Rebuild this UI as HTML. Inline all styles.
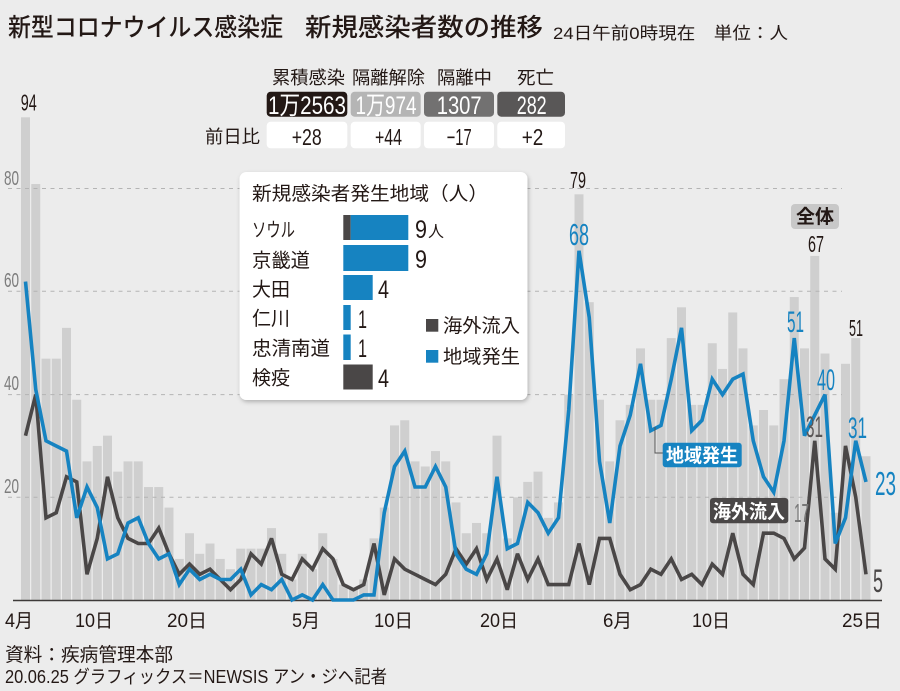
<!DOCTYPE html>
<html><head><meta charset="utf-8">
<style>
html,body{margin:0;padding:0;background:#ececec;}
svg{display:block;}
.j{font-family:"Liberation Sans","Noto Sans CJK JP",sans-serif;}
.n{font-family:"Liberation Sans Narrow","Liberation Sans","Noto Sans CJK JP",sans-serif;}
</style></head>
<body>
<svg width="900" height="691" viewBox="0 0 900 691" xmlns="http://www.w3.org/2000/svg">
<defs>
<filter id="sh" x="-10%" y="-10%" width="120%" height="120%">
<feDropShadow dx="1" dy="2" stdDeviation="2" flood-color="#000" flood-opacity="0.25"/>
</filter>
</defs>
<rect x="0" y="0" width="900" height="691" fill="#ececec"/>

<text class="j" x="8" y="36" font-size="25" font-weight="500" fill="#231815" textLength="275" lengthAdjust="spacingAndGlyphs">新型コロナウイルス感染症</text>
<text class="j" x="305" y="36" font-size="25" font-weight="500" fill="#231815" textLength="238" lengthAdjust="spacingAndGlyphs">新規感染者数の推移</text>
<text class="j" x="553" y="39" font-size="17" fill="#231815" textLength="235" lengthAdjust="spacingAndGlyphs">24日午前0時現在　単位：人</text>

<g class="j" font-size="18" fill="#231815">
<text x="272" y="84" textLength="73" lengthAdjust="spacingAndGlyphs">累積感染</text>
<text x="352" y="84" textLength="73" lengthAdjust="spacingAndGlyphs">隔離解除</text>
<text x="437" y="84" textLength="55" lengthAdjust="spacingAndGlyphs">隔離中</text>
<text x="517" y="84" textLength="37" lengthAdjust="spacingAndGlyphs">死亡</text>
<text x="205" y="143" textLength="55" lengthAdjust="spacingAndGlyphs">前日比</text>
</g>
<rect x="266.7" y="91.7" width="80.6" height="25" rx="4" fill="#231815"/>
<rect x="350.7" y="91.7" width="70" height="25" rx="4" fill="#b5b5b5"/>
<rect x="424" y="91.7" width="70" height="25" rx="4" fill="#727171"/>
<rect x="497.3" y="91.7" width="67.7" height="25" rx="4" fill="#595757"/>
<rect x="266.7" y="121.7" width="80.6" height="26.6" rx="4" fill="#fff"/>
<rect x="350.7" y="121.7" width="70" height="26.6" rx="4" fill="#fff"/>
<rect x="424" y="121.7" width="70" height="26.6" rx="4" fill="#fff"/>
<rect x="497.3" y="121.7" width="67.7" height="26.6" rx="4" fill="#fff"/>
<g class="n" font-size="25" fill="#fff">
<text x="268" y="114" textLength="78" lengthAdjust="spacingAndGlyphs">1万2563</text>
<text x="355.5" y="114" textLength="61" lengthAdjust="spacingAndGlyphs">1万974</text>
<text x="436.7" y="114" textLength="45" lengthAdjust="spacingAndGlyphs">1307</text>
<text x="516.7" y="114" textLength="30" lengthAdjust="spacingAndGlyphs">282</text>
</g>
<g class="n" font-size="23" fill="#231815">
<text x="291.7" y="145" textLength="30" lengthAdjust="spacingAndGlyphs">+28</text>
<text x="375" y="145" textLength="27" lengthAdjust="spacingAndGlyphs">+44</text>
<text x="446.7" y="145" textLength="25" lengthAdjust="spacingAndGlyphs">−17</text>
<text x="521.7" y="145" textLength="21.6" lengthAdjust="spacingAndGlyphs">+2</text>
</g>

<g fill="#cfcfcf">
<rect x="21" y="117.31" width="9" height="482.69"/>
<rect x="31.25" y="184.06" width="9" height="415.94"/>
<rect x="41.5" y="358.65" width="9" height="241.35"/>
<rect x="51.75" y="358.65" width="9" height="241.35"/>
<rect x="62" y="327.84" width="9" height="272.16"/>
<rect x="72.25" y="399.73" width="9" height="200.27"/>
<rect x="82.5" y="461.35" width="9" height="138.65"/>
<rect x="92.75" y="445.95" width="9" height="154.05"/>
<rect x="103" y="435.68" width="9" height="164.32"/>
<rect x="113.25" y="471.62" width="9" height="128.38"/>
<rect x="123.5" y="461.35" width="9" height="138.65"/>
<rect x="133.75" y="461.35" width="9" height="138.65"/>
<rect x="144" y="487.03" width="9" height="112.97"/>
<rect x="154.25" y="487.03" width="9" height="112.97"/>
<rect x="164.5" y="507.57" width="9" height="92.43"/>
<rect x="174.75" y="558.92" width="9" height="41.08"/>
<rect x="185" y="533.24" width="9" height="66.76"/>
<rect x="195.25" y="553.78" width="9" height="46.22"/>
<rect x="205.5" y="543.51" width="9" height="56.49"/>
<rect x="215.75" y="558.92" width="9" height="41.08"/>
<rect x="226" y="569.19" width="9" height="30.81"/>
<rect x="236.25" y="548.65" width="9" height="51.35"/>
<rect x="246.5" y="548.65" width="9" height="51.35"/>
<rect x="256.75" y="548.65" width="9" height="51.35"/>
<rect x="267" y="528.11" width="9" height="71.89"/>
<rect x="277.25" y="553.78" width="9" height="46.22"/>
<rect x="287.5" y="579.46" width="9" height="20.54"/>
<rect x="297.75" y="553.78" width="9" height="46.22"/>
<rect x="308" y="569.19" width="9" height="30.81"/>
<rect x="318.25" y="533.24" width="9" height="66.76"/>
<rect x="328.5" y="558.92" width="9" height="41.08"/>
<rect x="338.75" y="584.59" width="9" height="15.41"/>
<rect x="349" y="589.73" width="9" height="10.27"/>
<rect x="359.25" y="579.46" width="9" height="20.54"/>
<rect x="369.5" y="538.38" width="9" height="61.62"/>
<rect x="379.75" y="507.57" width="9" height="92.43"/>
<rect x="390" y="425.41" width="9" height="174.59"/>
<rect x="400.25" y="420.27" width="9" height="179.73"/>
<rect x="410.5" y="461.35" width="9" height="138.65"/>
<rect x="420.75" y="466.49" width="9" height="133.51"/>
<rect x="431" y="451.08" width="9" height="148.92"/>
<rect x="441.25" y="461.35" width="9" height="138.65"/>
<rect x="451.5" y="502.43" width="9" height="97.57"/>
<rect x="461.75" y="533.24" width="9" height="66.76"/>
<rect x="472" y="522.97" width="9" height="77.03"/>
<rect x="482.25" y="533.24" width="9" height="66.76"/>
<rect x="492.5" y="435.68" width="9" height="164.32"/>
<rect x="502.75" y="538.38" width="9" height="61.62"/>
<rect x="513" y="497.3" width="9" height="102.7"/>
<rect x="523.25" y="481.89" width="9" height="118.11"/>
<rect x="533.5" y="471.62" width="9" height="128.38"/>
<rect x="543.75" y="517.84" width="9" height="82.16"/>
<rect x="554" y="502.43" width="9" height="97.57"/>
<rect x="564.25" y="394.6" width="9" height="205.4"/>
<rect x="574.5" y="194.33" width="9" height="405.67"/>
<rect x="584.75" y="302.17" width="9" height="297.83"/>
<rect x="595" y="399.73" width="9" height="200.27"/>
<rect x="605.25" y="461.35" width="9" height="138.65"/>
<rect x="615.5" y="420.27" width="9" height="179.73"/>
<rect x="625.75" y="404.87" width="9" height="195.13"/>
<rect x="636" y="348.38" width="9" height="251.62"/>
<rect x="646.25" y="399.73" width="9" height="200.27"/>
<rect x="656.5" y="399.73" width="9" height="200.27"/>
<rect x="666.75" y="338.11" width="9" height="261.89"/>
<rect x="677" y="307.3" width="9" height="292.7"/>
<rect x="687.25" y="404.87" width="9" height="195.13"/>
<rect x="697.5" y="404.87" width="9" height="195.13"/>
<rect x="707.75" y="343.25" width="9" height="256.75"/>
<rect x="718" y="368.92" width="9" height="231.08"/>
<rect x="728.25" y="312.44" width="9" height="287.56"/>
<rect x="738.5" y="348.38" width="9" height="251.62"/>
<rect x="748.75" y="425.41" width="9" height="174.59"/>
<rect x="759" y="410" width="9" height="190"/>
<rect x="769.25" y="425.41" width="9" height="174.59"/>
<rect x="779.5" y="379.19" width="9" height="220.81"/>
<rect x="789.75" y="297.03" width="9" height="302.97"/>
<rect x="800" y="348.38" width="9" height="251.62"/>
<rect x="810.25" y="255.95" width="9" height="344.05"/>
<rect x="820.5" y="353.52" width="9" height="246.48"/>
<rect x="830.75" y="512.7" width="9" height="87.3"/>
<rect x="841" y="363.79" width="9" height="236.21"/>
<rect x="851.25" y="338.11" width="9" height="261.89"/>
<rect x="861.5" y="456.22" width="9" height="143.78"/>
</g>

<g stroke="#b4b4b4" stroke-width="1" stroke-dasharray="4,4.5">
<line x1="8" y1="188.5" x2="842" y2="188.5"/>
<line x1="8" y1="291.2" x2="842" y2="291.2"/>
<line x1="8" y1="394.6" x2="842" y2="394.6"/>
<line x1="8" y1="497.3" x2="842" y2="497.3"/>
</g>
<g class="n" font-size="20" fill="#7d7d7d">
<text x="4" y="185" textLength="15" lengthAdjust="spacingAndGlyphs">80</text>
<text x="4" y="287" textLength="15" lengthAdjust="spacingAndGlyphs">60</text>
<text x="4" y="390" textLength="15" lengthAdjust="spacingAndGlyphs">40</text>
<text x="4" y="493" textLength="15" lengthAdjust="spacingAndGlyphs">20</text>
</g>

<line x1="13" y1="600.5" x2="882" y2="600.5" stroke="#3e3a39" stroke-width="1.5"/>

<polyline fill="none" stroke="#4a4747" stroke-width="3.6" stroke-linejoin="miter" stroke-miterlimit="3" points="25.5,435.7 35.75,394.6 46,517.8 56.25,512.7 66.5,476.8 76.75,481.9 87,574.3 97.25,538.4 107.5,476.8 117.75,517.8 128,538.4 138.25,543.5 148.5,543.5 158.75,528.1 169,553.8 179.25,574.3 189.5,564.1 199.75,574.3 210,569.2 220.25,579.5 230.5,589.7 240.75,579.5 251,553.8 261.25,564.1 271.5,538.4 281.75,574.3 292,579.5 302.25,558.9 312.5,569.2 322.75,548.7 333,558.9 343.25,584.6 353.5,589.7 363.75,584.6 374,543.5 384.25,594.9 394.5,558.9 404.75,569.2 415,574.3 425.25,579.5 435.5,584.6 445.75,574.3 456,548.7 466.25,564.1 476.5,548.7 486.75,579.5 497,558.9 507.25,589.7 517.5,553.8 527.75,579.5 538,558.9 548.25,584.6 558.5,584.6 568.75,584.6 579,543.5 589.25,584.6 599.5,538.4 609.75,538.4 620,574.3 630.25,589.7 640.5,584.6 650.75,569.2 661,574.3 671.25,558.9 681.5,579.5 691.75,574.3 702,584.6 712.25,564.1 722.5,574.3 732.75,533.2 743,574.3 753.25,584.6 763.5,533.2 773.75,533.2 784,538.4 794.25,558.9 804.5,548 814.75,440.8 825,558.9 835.25,569.2 845.5,445.9 855.75,497.3 866,574.3"/>

<polyline fill="none" stroke="#1683c1" stroke-width="3.6" stroke-linejoin="miter" stroke-miterlimit="3" points="25.5,281.6 35.75,389.5 46,440.8 56.25,446 66.5,451.1 76.75,517.8 87,487 97.25,507.6 107.5,558.9 117.75,553.8 128,523 138.25,517.8 148.5,543.5 158.75,558.9 169,553.8 179.25,584.6 189.5,569.2 199.75,579.5 210,574.3 220.25,579.5 230.5,579.5 240.75,569.2 251,594.9 261.25,584.6 271.5,589.7 281.75,579.5 292,600 302.25,594.9 312.5,600 322.75,584.6 333,600 343.25,600 353.5,600 363.75,594.9 374,594.9 384.25,512.7 394.5,466.5 404.75,451.1 415,487 425.25,487 435.5,466.5 445.75,487 456,553.8 466.25,569.2 476.5,574.3 486.75,553.8 497,476.8 507.25,548.7 517.5,543.5 527.75,502.4 538,512.7 548.25,533.2 558.5,517.8 568.75,410 579,250.8 589.25,317.6 599.5,461.4 609.75,523 620,446 630.25,415.1 640.5,363.8 650.75,430.6 661,425.4 671.25,379.2 681.5,327.8 691.75,430.6 702,420.3 712.25,379.2 722.5,394.6 732.75,379.2 743,374.1 753.25,440.8 763.5,476.8 773.75,492.2 784,440.8 794.25,338.1 804.5,435.7 814.75,415.1 825,394.6 835.25,543.5 845.5,517.8 855.75,440.8 866,481.9"/>

<rect x="239.5" y="172" width="288" height="228" rx="7" fill="#fff" filter="url(#sh)"/>
<text class="j" x="252" y="200" font-size="19" fill="#231815" textLength="236" lengthAdjust="spacingAndGlyphs">新規感染者発生地域（人）</text>
<g class="j" font-size="19.5" fill="#231815">
<text x="252" y="236.5" textLength="43" lengthAdjust="spacingAndGlyphs">ソウル</text>
<text x="252" y="267" textLength="58" lengthAdjust="spacingAndGlyphs">京畿道</text>
<text x="252" y="296" textLength="38" lengthAdjust="spacingAndGlyphs">大田</text>
<text x="252" y="325" textLength="38" lengthAdjust="spacingAndGlyphs">仁川</text>
<text x="252" y="355" textLength="78" lengthAdjust="spacingAndGlyphs">忠清南道</text>
<text x="252" y="384.5" textLength="38" lengthAdjust="spacingAndGlyphs">検疫</text>
</g>
<rect x="343.3" y="215" width="7.4" height="25" fill="#4a4747"/>
<rect x="350.7" y="215" width="57.6" height="25" fill="#1683c1"/>
<rect x="343.3" y="245" width="65" height="26" fill="#1683c1"/>
<rect x="343.3" y="275" width="29.4" height="25" fill="#1683c1"/>
<rect x="343.3" y="305" width="7.4" height="25" fill="#1683c1"/>
<rect x="343.3" y="334.5" width="7.4" height="25.5" fill="#1683c1"/>
<rect x="343.3" y="364.5" width="29.4" height="25" fill="#4a4747"/>
<g class="n" font-size="25" fill="#231815">
<text x="415" y="238" textLength="12" lengthAdjust="spacingAndGlyphs">9</text>
<text x="415" y="268" textLength="12" lengthAdjust="spacingAndGlyphs">9</text>
<text x="378" y="298" textLength="11" lengthAdjust="spacingAndGlyphs">4</text>
<text x="358" y="328" textLength="9" lengthAdjust="spacingAndGlyphs">1</text>
<text x="358" y="357" textLength="9" lengthAdjust="spacingAndGlyphs">1</text>
<text x="378" y="387" textLength="11" lengthAdjust="spacingAndGlyphs">4</text>
</g>
<text class="j" x="428" y="237" font-size="16" fill="#231815">人</text>
<rect x="426" y="319" width="12.3" height="12.7" fill="#4a4747"/>
<rect x="426" y="350" width="12.3" height="12.7" fill="#1683c1"/>
<text class="j" x="443" y="332" font-size="19" fill="#231815" textLength="77" lengthAdjust="spacingAndGlyphs">海外流入</text>
<text class="j" x="443" y="363" font-size="19" fill="#231815" textLength="77" lengthAdjust="spacingAndGlyphs">地域発生</text>

<polyline points="655,427 655,453 663,453" fill="none" stroke="#555" stroke-width="1"/>
<rect x="662.7" y="442.7" width="79" height="24.6" rx="3" fill="#1683c1"/>
<text class="j" x="666" y="462" font-size="19" font-weight="700" fill="#fff" textLength="72" lengthAdjust="spacingAndGlyphs">地域発生</text>
<rect x="710" y="498" width="78.3" height="25.3" rx="3" fill="#4a4747"/>
<text class="j" x="713" y="518" font-size="19" font-weight="700" fill="#fff" textLength="72" lengthAdjust="spacingAndGlyphs">海外流入</text>
<rect x="791" y="204" width="48" height="25" rx="4" fill="#c8c8c8"/>
<text class="j" x="796" y="223" font-size="19" font-weight="700" fill="#231815" textLength="38" lengthAdjust="spacingAndGlyphs">全体</text>

<g class="n">
<text x="20.7" y="110.7" font-size="23" fill="#231815" textLength="16" lengthAdjust="spacingAndGlyphs">94</text>
<text x="570" y="188" font-size="23" fill="#231815" textLength="16" lengthAdjust="spacingAndGlyphs">79</text>
<text x="569" y="245" font-size="31" fill="#1683c1" textLength="20" lengthAdjust="spacingAndGlyphs">68</text>
<text x="808" y="252" font-size="23" fill="#231815" textLength="16" lengthAdjust="spacingAndGlyphs">67</text>
<text x="849" y="336" font-size="23" fill="#231815" textLength="14" lengthAdjust="spacingAndGlyphs">51</text>
<text x="787" y="332" font-size="30" fill="#1683c1" textLength="17" lengthAdjust="spacingAndGlyphs">51</text>
<text x="817" y="390" font-size="30" fill="#1683c1" textLength="18" lengthAdjust="spacingAndGlyphs">40</text>
<text x="848" y="438" font-size="30" fill="#1683c1" textLength="19" lengthAdjust="spacingAndGlyphs">31</text>
<text x="806" y="437" font-size="30" fill="#5a5757" textLength="17" lengthAdjust="spacingAndGlyphs">31</text>
<text x="794" y="522" font-size="26" fill="#777" textLength="15" lengthAdjust="spacingAndGlyphs">17</text>
<text x="873" y="592" font-size="32" fill="#4a4747" textLength="10" lengthAdjust="spacingAndGlyphs">5</text>
<text x="875" y="495" font-size="33" fill="#1683c1" textLength="21" lengthAdjust="spacingAndGlyphs">23</text>
</g>

<g class="j" font-size="19" fill="#231815">
<text x="5" y="627" textLength="28" lengthAdjust="spacingAndGlyphs">4月</text>
<text x="75" y="627" textLength="38" lengthAdjust="spacingAndGlyphs">10日</text>
<text x="167" y="627" textLength="40" lengthAdjust="spacingAndGlyphs">20日</text>
<text x="292" y="627" textLength="28" lengthAdjust="spacingAndGlyphs">5月</text>
<text x="374" y="627" textLength="39" lengthAdjust="spacingAndGlyphs">10日</text>
<text x="480" y="627" textLength="38" lengthAdjust="spacingAndGlyphs">20日</text>
<text x="603" y="627" textLength="29" lengthAdjust="spacingAndGlyphs">6月</text>
<text x="692" y="627" textLength="38" lengthAdjust="spacingAndGlyphs">10日</text>
<text x="842" y="627" textLength="40" lengthAdjust="spacingAndGlyphs">25日</text>
</g>

<text class="j" x="5" y="661" font-size="19" fill="#231815" textLength="168" lengthAdjust="spacingAndGlyphs">資料：疾病管理本部</text>
<text class="j" x="5" y="683" font-size="18" fill="#231815" textLength="382" lengthAdjust="spacingAndGlyphs">20.06.25 グラフィックス＝NEWSIS アン・ジヘ記者</text>
</svg>
</body></html>
